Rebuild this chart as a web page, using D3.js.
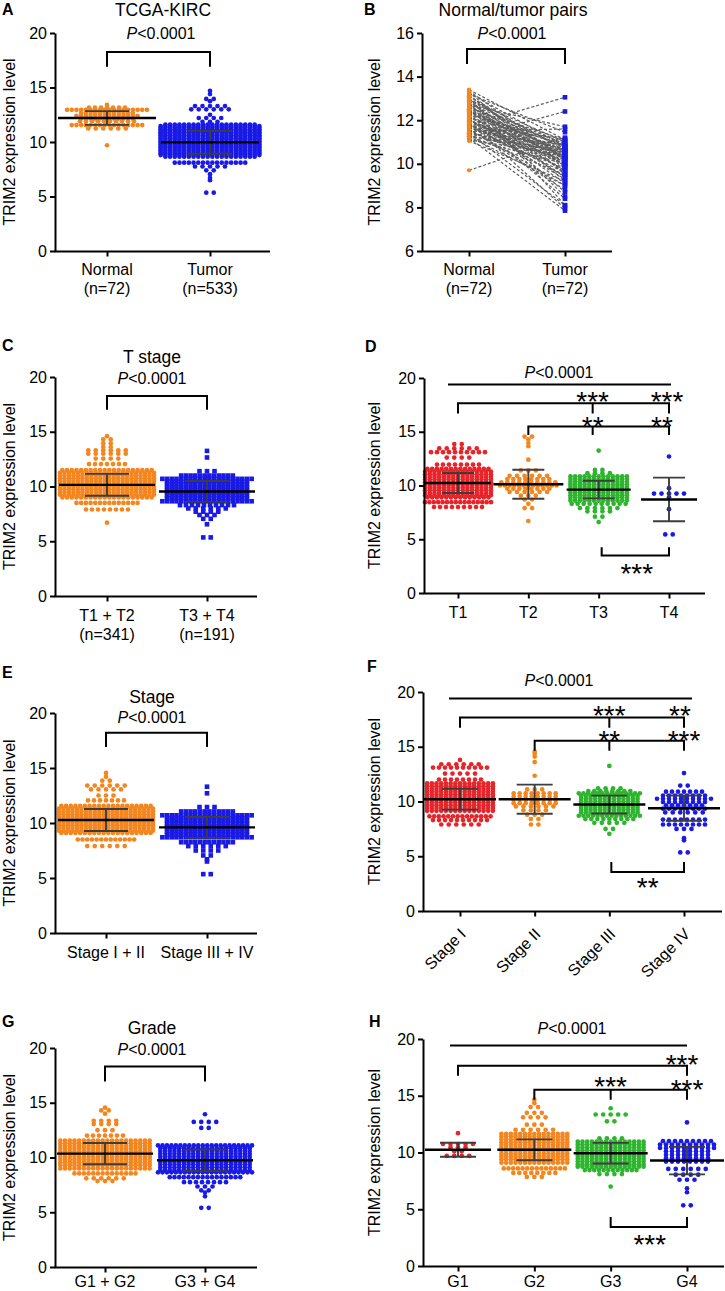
<!DOCTYPE html>
<html>
<head>
<meta charset="utf-8">
<script src="https://cdn.jsdelivr.net/npm/d3@7"></script>
<style>
  html,body{margin:0;padding:0;background:#fff;}
  svg{display:block;}
</style>
</head>
<body>
<svg id="fig" width="725" height="1291"></svg>
<script>
// ================= DATA =================
// rows: [expression value, number of points in that row]
const ticks20 = [0, 5, 10, 15, 20];
const ticksB = [6, 8, 10, 12, 14, 16];

// ---- Panel A ----
const catsA = ["Normal", "Tumor"];
const nLabelsA = ["(n=72)", "(n=533)"];
const aNormal = [[13.4,1],[13.15,7],[12.95,18],[12.65,12],[12.4,14],[12.15,12],[11.9,10],[11.55,16],[11.25,6],[9.7,1]];
const aTumor = [[14.7,1],[14.4,1],[13.95,2],[13.75,1],[13.3,5],[13.0,6],[12.5,1],[12.2,4],[11.85,3],
  [11.6,20],[11.46,22],[11.32,22],[11.18,22],[11.04,22],[10.9,22],[10.76,22],[10.62,22],[10.48,22],[10.34,22],[10.2,22],
  [10.06,22],[9.92,22],[9.78,22],[9.64,22],[9.5,22],[9.36,22],[9.22,22],[9.08,22],[8.94,22],[8.8,22],[8.65,20],
  [8.1,16],[7.75,5],[7.4,2],[7.05,1],[6.7,1],[6.5,1],[5.35,2]];
const meanA = [12.2, 9.97];
const sdA = [0.63, 1.05];

// ---- Panel B (paired) ----
const catsB = ["Normal", "Tumor"];
const nLabelsB = ["(n=72)", "(n=72)"];
const pairNormal = [
  13.40,13.35,13.30,13.25,13.20,13.15,13.10,13.05,13.00,
  12.95,12.90,12.90,12.85,12.80,12.75,12.70,12.70,12.65,
  12.60,12.55,12.50,12.50,12.45,12.40,12.35,12.30,12.30,
  12.25,12.20,12.15,12.10,12.10,12.05,12.00,11.95,11.90,
  11.90,11.85,11.80,11.75,11.70,11.70,11.65,11.60,11.55,
  11.50,11.50,11.45,11.40,11.35,11.30,11.30,11.25,11.20,
  11.15,11.10,11.05,12.60,12.20,11.80,11.40,12.85,12.45,
  12.05,11.65,11.25,13.10,11.75,11.20,12.40,11.60,9.70];
const pairTumor = [
  11.10,10.20,9.50,10.80,11.45,9.90,10.60,8.10,10.30,
  11.00,9.20,10.70,10.00,8.50,10.90,9.80,11.70,10.40,
  9.60,11.10,10.50,8.70,10.20,9.90,10.80,9.40,10.60,
  11.00,9.10,10.30,8.40,10.90,9.70,10.10,10.60,7.95,
  10.50,9.30,10.80,10.00,9.60,11.15,10.40,9.00,10.70,
  11.60,9.80,10.20,8.10,10.90,10.30,9.50,10.60,7.85,
  10.00,10.40,9.20,10.80,9.70,10.10,10.50,9.90,10.30,
  9.40,10.70,9.00,10.20,13.05,12.40,10.60,8.80,11.20];

// ---- Panel C ----
const catsC = ["T1 + T2", "T3 + T4"];
const nLabelsC = ["(n=341)", "(n=191)"];
const cT12 = [[14.6,1],[14.3,2],[13.95,2],[13.6,2],[13.3,6],[13.0,6],[12.55,4],[12.05,7],
  [11.5,20],[11.25,22],[11.0,22],[10.75,22],[10.5,22],[10.25,22],[10.0,22],[9.75,22],[9.5,22],[9.25,22],[9.0,20],
  [8.5,14],[7.9,8],[6.7,1]];
const cT34 = [[13.25,1],[12.65,1],[11.4,3],[11.0,12],
  [10.7,20],[10.45,18],[10.2,18],[9.95,18],[9.7,18],[9.45,18],[9.2,18],[8.95,18],[8.65,20],
  [8.3,10],[8.0,6],[7.7,4],[7.4,3],[7.05,2],[6.55,1],[5.35,2]];
const meanC = [10.15, 9.55];
const sdC = [1.0, 0.95];

// ---- Panel D ----
const catsD = ["T1", "T2", "T3", "T4"];
const dT1 = [[13.85,2],[13.45,6],[13.1,10],[12.6,4],[11.95,8],
  [11.55,14],[11.3,15],[11.05,15],[10.8,15],[10.55,15],[10.3,15],[10.05,15],[9.8,15],[9.55,15],[9.3,15],[9.1,15],[8.9,14],
  [8.45,16],[8.0,9]];
const dT2 = [[14.55,2],[14.3,1],[13.95,1],[13.65,1],[12.4,1],[11.4,3],[10.9,6],[10.6,8],[10.3,10],[10.0,13],
  [9.7,8],[9.4,6],[9.05,3],[8.7,2],[8.3,1],[7.9,2],[6.7,1]];
const dT3 = [[13.25,1],[11.45,2],[11.15,4],
  [10.85,13],[10.6,13],[10.35,13],[10.1,13],[9.85,13],[9.6,13],[9.35,13],[9.1,13],[8.85,13],[8.6,13],
  [8.3,10],[7.9,6],[7.6,4],[7.1,2],[6.6,1]];
const dT4 = [[12.7,1],[9.75,1],[9.25,5],[8.9,1],[7.8,1],[5.45,2]];
const meanD = [10.23, 10.12, 9.62, 8.7];
const sdD = [0.93, 1.35, 0.82, 2.03];

// ---- Panel E ----
const catsE = ["Stage I + II", "Stage III + IV"];
const eS12 = [[14.55,1],[14.2,1],[13.85,2],[13.4,6],[13.05,5],[12.5,3],[12.05,7],
  [11.55,20],[11.3,22],[11.05,22],[10.8,22],[10.55,22],[10.3,22],[10.05,22],[9.8,22],[9.55,22],[9.3,22],[9.1,20],
  [8.5,13],[7.9,6]];
const eS34 = [[13.3,1],[12.7,1],[11.45,3],[11.05,12],
  [10.7,20],[10.45,18],[10.2,18],[9.95,18],[9.7,18],[9.45,18],[9.2,18],[8.95,18],[8.7,20],
  [8.25,12],[7.9,6],[7.5,4],[7.05,2],[6.7,1],[6.5,1],[5.35,2]];
const meanE = [10.27, 9.6];
const sdE = [1.0, 0.95];

// ---- Panel F ----
const catsF = ["Stage I", "Stage II", "Stage III", "Stage IV"];
const fS1 = [[13.8,1],[13.4,6],[13.1,10],[12.55,5],[12.0,8],
  [11.65,15],[11.4,15],[11.15,15],[10.9,15],[10.65,15],[10.4,15],[10.15,15],[9.9,15],[9.65,15],[9.4,15],[9.15,15],
  [8.65,14],[8.3,10],[7.9,6]];
const fS2 = [[14.55,1],[14.35,1],[14.1,1],[13.6,1],[12.35,1],[11.1,3],[10.75,8],[10.45,8],[10.15,8],[9.85,8],
  [9.55,6],[9.2,4],[8.8,3],[8.4,2],[7.9,2]];
const fS3 = [[13.25,1],[11.2,4],[10.95,8],
  [10.75,14],[10.5,13],[10.25,13],[10.0,13],[9.75,13],[9.5,13],[9.25,13],[9.0,13],[8.7,14],
  [8.4,9],[8.05,5],[7.5,2],[7.05,1]];
const fS4 = [[12.6,1],[11.45,2],[10.9,7],[10.55,8],[10.25,10],[9.95,8],[9.65,7],[9.35,8],[9.0,6],
  [8.35,8],[7.9,8],[7.5,3],[6.65,1],[6.45,1],[5.35,2]];
const meanF = [10.21, 10.21, 9.72, 9.39];
const sdF = [0.95, 1.33, 0.82, 1.16];

// ---- Panel G ----
const catsG = ["G1 + G2", "G3 + G4"];
const gG12 = [[14.55,1],[14.3,2],[14.0,1],[13.35,4],[13.05,4],[12.5,3],[12.0,7],
  [11.55,20],[11.3,20],[11.05,20],[10.8,20],[10.55,20],[10.3,20],[10.05,20],[9.8,20],[9.55,20],[9.3,20],[9.0,20],
  [8.55,14],[8.1,6],[7.85,3]];
const gG34 = [[13.95,1],[13.25,4],[12.7,2],
  [11.1,22],[10.85,20],[10.6,20],[10.35,20],[10.1,20],[9.85,20],[9.6,20],[9.35,20],[9.1,20],[8.85,20],[8.65,22],
  [8.2,16],[7.75,8],[7.35,3],[7.0,2],[6.8,1],[6.45,1],[5.4,2]];
const meanG = [10.35, 9.75];
const sdG = [0.97, 0.97];

// ---- Panel H ----
const catsH = ["G1", "G2", "G3", "G4"];
const hG1 = [[11.7,1],[10.75,5],[10.45,3],[10.1,2],[9.7,4]];
const hG2 = [[14.65,1],[14.35,1],[14.0,2],[13.5,3],[13.1,4],[12.45,3],[12.0,6],
  [11.65,15],[11.4,15],[11.15,15],[10.9,15],[10.65,15],[10.4,15],[10.15,15],[9.9,15],[9.65,15],[9.4,15],[9.1,15],
  [8.6,14],[8.2,8],[7.85,3]];
const hG3 = [[13.9,1],[13.35,5],[12.75,2],[11.25,4],
  [10.95,15],[10.7,15],[10.45,15],[10.2,15],[9.95,15],[9.7,15],[9.45,15],[9.2,15],[8.95,15],[8.75,15],
  [8.45,12],[8.1,4],[7.0,1]];
const hG4 = [[12.65,1],[11.0,9],[10.7,10],[10.4,10],[10.1,8],[9.8,8],[9.5,8],[9.2,8],[8.55,6],[8.05,4],[7.6,3],[6.85,1],[6.5,1],[5.35,2]];
const meanH = [10.24, 10.24, 9.94, 9.29];
const sdH = [0.62, 0.92, 0.91, 1.22];

// ================= DRAWING =================
const FONT = '"Liberation Sans", Arial, Helvetica, sans-serif';
const COL = {orange: "#F3861F", blue: "#1A1AE6", red: "#E6252B", green: "#2EB42E"};
const STAR = 28;
const svg = d3.select("#fig");

function txt(x, y, s, opt = {}) {
  const t = svg.append("text").attr("x", x).attr("y", y)
    .attr("font-family", FONT).attr("font-size", opt.size || 16)
    .attr("text-anchor", opt.anchor || "middle").attr("fill", "#000");
  if (opt.weight) t.attr("font-weight", opt.weight);
  if (opt.transform) t.attr("transform", opt.transform);
  t.text(s);
  return t;
}
function pText(x, y) {
  const t = svg.append("text").attr("x", x).attr("y", y)
    .attr("font-family", FONT).attr("font-size", 16).attr("text-anchor", "middle").attr("fill", "#000");
  t.append("tspan").attr("font-style", "italic").text("P");
  t.append("tspan").text("<0.0001");
}
function path(d, w = 2, c = "#000") {
  svg.append("path").attr("d", d).attr("fill", "none").attr("stroke", c).attr("stroke-width", w);
}
function yLabel(x, yMid) {
  txt(x, yMid, "TRIM2 expression level", {size: 16, transform: `rotate(-90,${x},${yMid})`});
}

function swarm(rows, cx, maxHalf) {
  const pts = [];
  rows.forEach(([v, n]) => {
    let sp = n <= 6 ? 7.5 : (n <= 10 ? 6 : 4.7);
    if (n > 1 && (n - 1) * sp > 2 * maxHalf) sp = 2 * maxHalf / (n - 1);
    for (let i = 0; i < n; i++) pts.push({x: cx + (i - (n - 1) / 2) * sp, v});
  });
  return pts;
}

function axes(cfg, y, x) {
  const ax = svg.append("g").attr("transform", `translate(${cfg.axisX},0)`)
    .call(d3.axisLeft(y).tickValues(cfg.ticks).tickSize(5).tickPadding(3).tickSizeOuter(0).tickFormat(d3.format("d")));
  ax.select(".domain").attr("stroke-width", 2).attr("stroke", "#000");
  ax.selectAll(".tick line").attr("stroke-width", 2).attr("stroke", "#000");
  ax.selectAll(".tick text").attr("font-size", 16).attr("font-family", FONT).attr("fill", "#000");
  const y0 = y(cfg.domain[0]);
  path(`M${cfg.axisX - 0.5},${y0 + 0.5}H${cfg.xEnd}`, 2);
  const bx = svg.append("g").attr("transform", `translate(0,${y0 + 0.5})`)
    .call(d3.axisBottom(x).tickSize(5).tickSizeOuter(0).tickFormat(""));
  bx.select(".domain").remove();
  bx.selectAll(".tick line").attr("stroke-width", 2).attr("stroke", "#000");
  cfg.cats.forEach((c, i) => {
    if (cfg.rotate) {
      const ex = x(c) + 7, ey = y0 + 24;
      txt(ex, ey, c, {anchor: "end", transform: `rotate(-45,${ex},${ey})`});
    } else {
      txt(x(c), y0 + cfg.labelDy, c);
      if (cfg.nLabels) txt(x(c), y0 + cfg.labelDy + 19, cfg.nLabels[i]);
    }
  });
}

function drawPanel(cfg) {
  const y = d3.scaleLinear().domain(cfg.domain).range(cfg.yRange);
  const x = d3.scalePoint().domain(cfg.cats).range(cfg.catRange);
  cfg.groups.forEach((grp, i) => {
    const cx = x(cfg.cats[i]);
    const pts = swarm(grp.rows, cx, grp.maxHalf || cfg.maxHalf);
    const gg = svg.append("g");
    if (grp.shape === "square") {
      const s = 4.6;
      gg.selectAll("rect").data(pts).join("rect")
        .attr("x", d => d.x - s / 2).attr("y", d => y(d.v) - s / 2)
        .attr("width", s).attr("height", s).attr("fill", grp.color);
    } else {
      gg.selectAll("circle").data(pts).join("circle")
        .attr("cx", d => d.x).attr("cy", d => y(d.v)).attr("r", 2.35).attr("fill", grp.color);
    }
  });
  cfg.cats.forEach((c, i) => {
    const cx = x(c);
    const m = cfg.means[i], s = cfg.sds[i];
    const mh = (cfg.meanHalfs && cfg.meanHalfs[i]) || cfg.meanHalf;
    const ch = cfg.capHalf;
    path(`M${cx},${y(m + s)}V${y(m - s)}M${cx - ch},${y(m + s)}H${cx + ch}M${cx - ch},${y(m - s)}H${cx + ch}`, 1.9, "#3d3d3d");
    path(`M${cx - mh},${y(m)}H${cx + mh}`, 2.4, "#000");
  });
  axes(cfg, y, x);
  yLabel(cfg.ylabelX, (cfg.yRange[0] + cfg.yRange[1]) / 2);
  return {x, y};
}

function twoBracket(sc, cats, v, leg) {
  const x1 = sc.x(cats[0]), x2 = sc.x(cats[1]);
  path(`M${x1},${sc.y(leg)}V${sc.y(v)}H${x2}V${sc.y(leg)}`, 2);
}

function sig4(sc, cats, spec) {
  const xs = cats.map(c => sc.x(c));
  const y = sc.y;
  path(`M${xs[0] + spec.topDx[0]},${y(spec.top)}H${xs[3] + spec.topDx[1]}`, 2);
  spec.brackets.forEach(b => {
    const yl = y(b.v), yg = y(b.leg);
    let d = `M${xs[b.from]},${yg}V${yl}H${xs[b.to]}V${yg}`;
    (b.mids || []).forEach(m => { d += `M${xs[m] + (spec.midDx || 0)},${yl}V${yg}`; });
    path(d, 2);
  });
  const bb = spec.bottom;
  path(`M${xs[bb.from] + (bb.dx || 0)},${y(bb.leg)}V${y(bb.v)}H${xs[bb.to]}V${y(bb.leg)}`, 2);
  spec.stars.forEach(s => {
    const cx = s.at.length === 1 ? xs[s.at[0]] : (xs[s.at[0]] + xs[s.at[1]]) / 2;
    txt(cx + (s.dx || 0), y(s.v) + 0.57 * STAR, s.t, {size: STAR});
  });
}

// ---------- Panel A ----------
const scA = drawPanel({
  domain: [0, 20], yRange: [251, 33], ticks: ticks20, axisX: 55, xEnd: 270,
  cats: catsA, catRange: [107, 210], nLabels: nLabelsA, labelDy: 23.5,
  groups: [{rows: aNormal, color: COL.orange}, {rows: aTumor, color: COL.blue}],
  means: meanA, sds: sdA, maxHalf: 51, meanHalf: 49, capHalf: 22, ylabelX: 15
});
txt(2, 15, "A", {anchor: "start", weight: "bold"});
txt(163, 16, "TCGA-KIRC", {size: 17.5});
pText(161, 38.5);
twoBracket(scA, catsA, 18.25, 16.9);

// ---------- Panel B ----------
(function () {
  const y = d3.scaleLinear().domain([6, 16]).range([251, 33]);
  const x = d3.scalePoint().domain(catsB).range([469, 565]);
  const xn = x(catsB[0]), xt = x(catsB[1]);
  const gl = svg.append("g");
  gl.selectAll("line").data(d3.range(pairNormal.length)).join("line")
    .attr("x1", xn).attr("y1", i => y(pairNormal[i]))
    .attr("x2", xt).attr("y2", i => y(pairTumor[i]))
    .attr("stroke", "#5e5e5e").attr("stroke-width", 1.2).attr("stroke-dasharray", "3,2");
  svg.append("g").selectAll("circle").data(pairNormal).join("circle")
    .attr("cx", xn).attr("cy", d => y(d)).attr("r", 2.1).attr("fill", COL.orange);
  const s = 4.6;
  svg.append("g").selectAll("rect").data(pairTumor).join("rect")
    .attr("x", xt - s / 2).attr("y", d => y(d) - s / 2).attr("width", s).attr("height", s).attr("fill", COL.blue);
  axes({axisX: 422, xEnd: 612, ticks: ticksB, domain: [6, 16], cats: catsB, nLabels: nLabelsB, labelDy: 23.5}, y, x);
  yLabel(380, 142);
  txt(364, 15, "B", {anchor: "start", weight: "bold"});
  txt(513, 16, "Normal/tumor pairs", {size: 17.5});
  pText(512, 39);
  path(`M${xn - 2},${y(14.58)}V${y(15.27)}H${xt}V${y(14.58)}`, 2);
})();

// ---------- Panel C ----------
const scC = drawPanel({
  domain: [0, 20], yRange: [596, 377], ticks: ticks20, axisX: 55, xEnd: 257,
  cats: catsC, catRange: [107, 207], nLabels: nLabelsC, labelDy: 25,
  groups: [{rows: cT12, color: COL.orange}, {rows: cT34, color: COL.blue, shape: "square"}],
  means: meanC, sds: sdC, maxHalf: 47, meanHalf: 48, capHalf: 22, ylabelX: 15
});
txt(2, 350.5, "C", {anchor: "start", weight: "bold"});
txt(152, 363, "T stage", {size: 17.5});
pText(152, 384);
twoBracket(scC, catsC, 18.26, 17.0);

// ---------- Panel D ----------
const scD = drawPanel({
  domain: [0, 20], yRange: [593, 378], ticks: ticks20, axisX: 424, xEnd: 705,
  cats: catsD, catRange: [458, 669], labelDy: 25,
  groups: [{rows: dT1, color: COL.red}, {rows: dT2, color: COL.orange},
           {rows: dT3, color: COL.green}, {rows: dT4, color: COL.blue}],
  means: meanD, sds: sdD, maxHalf: 33, meanHalf: 33, meanHalfs: [33, 35, 32, 28], capHalf: 16, ylabelX: 380
});
txt(365, 351.5, "D", {anchor: "start", weight: "bold"});
pText(559, 377.5);
sig4(scD, catsD, {
  top: 19.4, topDx: [-10, 2], midDx: -6,
  brackets: [{from: 0, to: 3, v: 17.65, leg: 16.7, mids: [2]}, {from: 1, to: 3, v: 15.5, leg: 14.7, mids: [2]}],
  bottom: {from: 2, to: 3, v: 3.5, leg: 4.25, dx: 3},
  stars: [{t: "***", at: [2], v: 18.4, dx: -6}, {t: "***", at: [3], v: 18.4, dx: -2},
          {t: "**", at: [2], v: 16.07, dx: -6}, {t: "**", at: [3], v: 16.07, dx: -7},
          {t: "***", at: [2, 3], v: 2.42, dx: 3}]
});

// ---------- Panel E ----------
const scE = drawPanel({
  domain: [0, 20], yRange: [933, 713], ticks: ticks20, axisX: 55, xEnd: 257,
  cats: catsE, catRange: [106, 207], labelDy: 25,
  groups: [{rows: eS12, color: COL.orange}, {rows: eS34, color: COL.blue, shape: "square"}],
  means: meanE, sds: sdE, maxHalf: 47, meanHalf: 48, capHalf: 22, ylabelX: 15
});
txt(2, 678, "E", {anchor: "start", weight: "bold"});
txt(152, 702.5, "Stage", {size: 17.5});
pText(152, 723);
twoBracket(scE, catsE, 18.2, 16.9);

// ---------- Panel F ----------
const scF = drawPanel({
  domain: [0, 20], yRange: [911, 692], ticks: ticks20, axisX: 423, xEnd: 722,
  cats: catsF, catRange: [460, 684], rotate: true,
  groups: [{rows: fS1, color: COL.red}, {rows: fS2, color: COL.orange},
           {rows: fS3, color: COL.green}, {rows: fS4, color: COL.blue}],
  means: meanF, sds: sdF, maxHalf: 35, meanHalf: 36, capHalf: 18, ylabelX: 380
});
txt(367, 671.5, "F", {anchor: "start", weight: "bold"});
pText(559, 685.5);
sig4(scF, catsF, {
  top: 19.4, topDx: [-11, 8],
  brackets: [{from: 0, to: 3, v: 17.66, leg: 16.74, mids: [2]}, {from: 1, to: 3, v: 15.55, leg: 14.64, mids: [2]}],
  bottom: {from: 2, to: 3, v: 3.57, leg: 4.48, dx: 2},
  stars: [{t: "***", at: [2], v: 18.4}, {t: "**", at: [3], v: 18.4, dx: -4},
          {t: "**", at: [2], v: 16.2}, {t: "***", at: [3], v: 16.2},
          {t: "**", at: [2, 3], v: 2.7, dx: 1}]
});

// ---------- Panel G ----------
const scG = drawPanel({
  domain: [0, 20], yRange: [1267, 1048], ticks: ticks20, axisX: 55, xEnd: 257,
  cats: catsG, catRange: [105, 205], labelDy: 20,
  groups: [{rows: gG12, color: COL.orange}, {rows: gG34, color: COL.blue}],
  means: meanG, sds: sdG, maxHalf: 47, meanHalf: 48, capHalf: 22, ylabelX: 15
});
txt(2, 1027, "G", {anchor: "start", weight: "bold"});
txt(152, 1034, "Grade", {size: 17.5});
pText(152, 1054.5);
twoBracket(scG, catsG, 18.3, 16.95);

// ---------- Panel H ----------
const scH = drawPanel({
  domain: [0, 20], yRange: [1266, 1039], ticks: ticks20, axisX: 423, xEnd: 724,
  cats: catsH, catRange: [458, 687], labelDy: 21,
  groups: [{rows: hG1, color: COL.red, maxHalf: 20}, {rows: hG2, color: COL.orange},
           {rows: hG3, color: COL.green}, {rows: hG4, color: COL.blue}],
  means: meanH, sds: sdH, maxHalf: 35, meanHalf: 37, meanHalfs: [33, 37, 37, 37], capHalf: 18, ylabelX: 380
});
txt(369, 1026.7, "H", {anchor: "start", weight: "bold"});
pText(572, 1034);
sig4(scH, catsH, {
  top: 19.42, topDx: [-8, 0],
  brackets: [{from: 0, to: 3, v: 17.65, leg: 16.77, mids: []}, {from: 1, to: 3, v: 15.53, leg: 14.65, mids: [2]}],
  bottom: {from: 2, to: 3, v: 3.44, leg: 4.32},
  stars: [{t: "***", at: [3], v: 18.33, dx: -5},
          {t: "***", at: [2], v: 16.42}, {t: "***", at: [3], v: 16.12},
          {t: "***", at: [2, 3], v: 2.47, dx: 1}]
});
</script>
</body>
</html>
